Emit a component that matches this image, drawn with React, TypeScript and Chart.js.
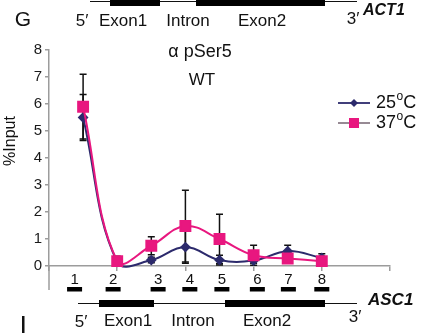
import React, { useEffect, useRef } from "react";
import { Chart, registerables } from "chart.js";
Chart.register(...registerables);

const FONT = "'Liberation Sans', Arial, Helvetica, sans-serif";

// Data
const positions = [1, 2, 3, 4, 5, 6, 7, 8];
const wt25 = [5.5, 0.15, 0.22, 0.7, 0.22, 0.2, 0.55, 0.3];
const wt25Err = [0.85, 0.15, 0.1, 0.6, 0.18, 0.1, 0.22, 0.15];
const wt37 = [5.9, 0.18, 0.75, 1.48, 1.0, 0.4, 0.28, 0.18];
const wt37Err = [1.2, 0.18, 0.33, 1.33, 0.92, 0.37, 0.1, 0.1];
const seriesLabels = ["25", "37"];
const primerLabels = ["1", "2", "3", "4", "5", "6", "7", "8"];
const primerPos = [0.75, 1.88, 3.2, 4.13, 5.07, 6.11, 7.02, 8.0];
const yTicks = [0, 1, 2, 3, 4, 5, 6, 7, 8];
const titleLines = ["α pSer5", "WT"];
const yTitle = "%Input";
const geneTop = "ACT1";
const geneBottom = "ASC1";
const regionLabels = ["Exon1", "Intron", "Exon2"];

const NAVY = "#2c2a6c";
const PINK = "#e8177f";
const AXIS = "#9c9c9c";

function text(ctx: CanvasRenderingContext2D, s: string, x: number, y: number, size: number, align: CanvasTextAlign = "center", style = "") {
  ctx.font = `${style} ${size}px ${FONT}`.trim();
  ctx.textAlign = align;
  ctx.textBaseline = "middle";
  ctx.fillStyle = "#111";
  ctx.fillText(s, x, y);
}

function degreeLabel(ctx: CanvasRenderingContext2D, num: string, x: number, y: number) {
  ctx.fillStyle = "#111";
  ctx.textBaseline = "middle";
  ctx.textAlign = "left";
  ctx.font = `18px ${FONT}`;
  ctx.fillText(num, x, y);
  let w = ctx.measureText(num).width;
  ctx.font = `12px ${FONT}`;
  ctx.fillText("o", x + w + 0.5, y - 6);
  w += ctx.measureText("o").width + 0.5;
  ctx.font = `18px ${FONT}`;
  ctx.fillText("C", x + w, y);
}

function marker(ctx: CanvasRenderingContext2D, kind: string, x: number, y: number, color: string) {
  ctx.fillStyle = color;
  ctx.beginPath();
  if (kind === "diamond") {
    ctx.moveTo(x, y - 4);
    ctx.lineTo(x + 4, y);
    ctx.lineTo(x, y + 4);
    ctx.lineTo(x - 4, y);
    ctx.closePath();
  } else {
    ctx.rect(x - 5, y - 5, 10, 10);
  }
  ctx.fill();
}

function gene(ctx: CanvasRenderingContext2D, y: number, x0: number, x1: number, e1: [number, number], e2: [number, number], h: number, lineY: number) {
  ctx.strokeStyle = "#111";
  ctx.lineWidth = 1.2;
  ctx.beginPath();
  ctx.moveTo(x0, lineY);
  ctx.lineTo(x1, lineY);
  ctx.stroke();
  ctx.fillStyle = "#000";
  ctx.fillRect(e1[0], y, e1[1] - e1[0], h);
  ctx.fillRect(e2[0], y, e2[1] - e2[0], h);
}

const errorBars = {
  id: "errorBars",
  beforeDatasetsDraw(chart: any) {
    const { ctx, scales } = chart;
    const xs = scales.x;
    const ys = scales.y;
    const sets = [
      { v: wt25, e: wt25Err },
      { v: wt37, e: wt37Err },
    ];
    ctx.save();
    ctx.strokeStyle = "#111";
    ctx.lineWidth = 1.5;
    sets.forEach((s) => {
      positions.forEach((p, i) => {
        const x = xs.getPixelForValue(p);
        const yt = ys.getPixelForValue(s.v[i] + s.e[i]);
        const yb = ys.getPixelForValue(Math.max(0, s.v[i] - s.e[i]));
        ctx.beginPath();
        ctx.moveTo(x, yt);
        ctx.lineTo(x, yb);
        ctx.moveTo(x - 3.5, yt);
        ctx.lineTo(x + 3.5, yt);
        ctx.moveTo(x - 3.5, yb);
        ctx.lineTo(x + 3.5, yb);
        ctx.stroke();
      });
    });
    ctx.restore();
  },
};

const decor = {
  id: "decor",
  afterDraw(chart: any) {
    const { ctx, scales, chartArea } = chart;
    const xs = scales.x;
    ctx.save();

    // extended y axis below x axis
    ctx.strokeStyle = AXIS;
    ctx.lineWidth = 1.5;
    ctx.beginPath();
    ctx.moveTo(chartArea.left, chartArea.bottom);
    ctx.lineTo(chartArea.left, chartArea.bottom + 24);
    ctx.stroke();

    // y title
    ctx.save();
    ctx.translate(11, 141);
    ctx.rotate(-Math.PI / 2);
    text(ctx, yTitle, 0, 0, 16);
    ctx.restore();

    // chart title
    text(ctx, titleLines[0], 200, 52, 18);
    text(ctx, titleLines[1], 202, 80, 17);

    // legend
    const leg = [
      { y: 103, color: NAVY, line: NAVY, kind: "diamond" },
      { y: 123, color: PINK, line: "#8c7d88", kind: "square" },
    ];
    leg.forEach((l, i) => {
      ctx.strokeStyle = l.line;
      ctx.lineWidth = 1.8;
      ctx.beginPath();
      ctx.moveTo(338, l.y);
      ctx.lineTo(370, l.y);
      ctx.stroke();
      marker(ctx, l.kind, 354, l.y, l.color);
      degreeLabel(ctx, seriesLabels[i], 376, l.y);
    });

    // primer labels and bars
    primerLabels.forEach((lab, i) => {
      const x = xs.getPixelForValue(primerPos[i]);
      text(ctx, lab, x, 280, 15);
      ctx.fillStyle = "#000";
      ctx.fillRect(x - 7.5, 287, 15, 4.5);
    });

    // top gene ACT1
    gene(ctx, 0, 90, 357, [110, 160], [196, 325], 6, 1.5);
    text(ctx, "G", 23, 20, 21);
    text(ctx, "5\u2032", 82, 21, 17);
    text(ctx, regionLabels[0], 123, 21, 17);
    text(ctx, regionLabels[1], 188, 21, 17);
    text(ctx, regionLabels[2], 262, 21, 17);
    text(ctx, "3\u2032", 353, 19, 17);
    text(ctx, geneTop, 363, 11, 16, "left", "italic bold");

    // bottom gene ASC1
    gene(ctx, 300, 78, 357, [99, 154], [225, 325], 7, 303.5);
    text(ctx, geneBottom, 368, 300, 17, "left", "italic bold");
    text(ctx, "5\u2032", 81, 322, 17);
    text(ctx, regionLabels[0], 128, 321, 17);
    text(ctx, regionLabels[1], 193, 321, 17);
    text(ctx, regionLabels[2], 267, 321, 17);
    text(ctx, "3\u2032", 355, 317, 17);
    ctx.fillStyle = "#111";
    ctx.fillRect(22, 316, 2.5, 17);

    ctx.restore();
  },
};

export default function App() {
  const ref = useRef<HTMLCanvasElement | null>(null);
  useEffect(() => {
    document.body.style.margin = "0";
    const canvas = ref.current;
    if (!canvas) return;
    const chart = new Chart(canvas, {
      type: "line",
      data: {
        datasets: [
          {
            label: seriesLabels[1],
            data: positions.map((x, i) => ({ x, y: wt37[i] })),
            borderColor: PINK,
            backgroundColor: PINK,
            pointBackgroundColor: PINK,
            pointBorderColor: PINK,
            pointStyle: "rect",
            pointRadius: 7,
            borderWidth: 2,
            tension: 0.4,
            clip: false,
            order: 0,
          } as any,
          {
            label: seriesLabels[0],
            data: positions.map((x, i) => ({ x, y: wt25[i] })),
            borderColor: NAVY,
            backgroundColor: NAVY,
            pointBackgroundColor: NAVY,
            pointBorderColor: NAVY,
            pointStyle: "rectRot",
            pointRadius: 4,
            borderWidth: 2,
            tension: 0.4,
            clip: false,
            order: 1,
          } as any,
        ],
      },
      options: {
        responsive: false,
        animation: false,
        layout: { padding: { left: 0, right: 33, top: 50, bottom: 57 } },
        elements: { line: { capBezierPoints: false } },
        plugins: {
          legend: { display: false },
          tooltip: { enabled: false },
          title: { display: false },
        },
        scales: {
          x: {
            type: "linear",
            min: 0,
            max: 10,
            ticks: { display: false, stepSize: 2 },
            grid: { drawOnChartArea: false, drawTicks: true, tickLength: 5, color: AXIS, lineWidth: 1.5 },
            border: { color: AXIS, width: 1.5 },
            afterFit: (s: any) => {
              s.height = 10;
            },
          },
          y: {
            min: 0,
            max: 8,
            afterBuildTicks: (s: any) => {
              s.ticks = yTicks.map((v) => ({ value: v }));
            },
            ticks: { font: { family: FONT, size: 15 }, color: "#1a1a1a", padding: 3 },
            grid: { drawOnChartArea: false, drawTicks: true, tickLength: 4, color: AXIS, lineWidth: 1.5 },
            border: { color: AXIS, width: 1.5 },
            afterFit: (s: any) => {
              s.width = 49;
            },
          },
        } as any,
      },
      plugins: [errorBars, decor],
    });
    return () => chart.destroy();
  }, []);
  return (
    <div style={{ width: 423, height: 333, background: "#fff" }}>
      <canvas ref={ref} width={423} height={333} style={{ display: "block" }} />
    </div>
  );
}
